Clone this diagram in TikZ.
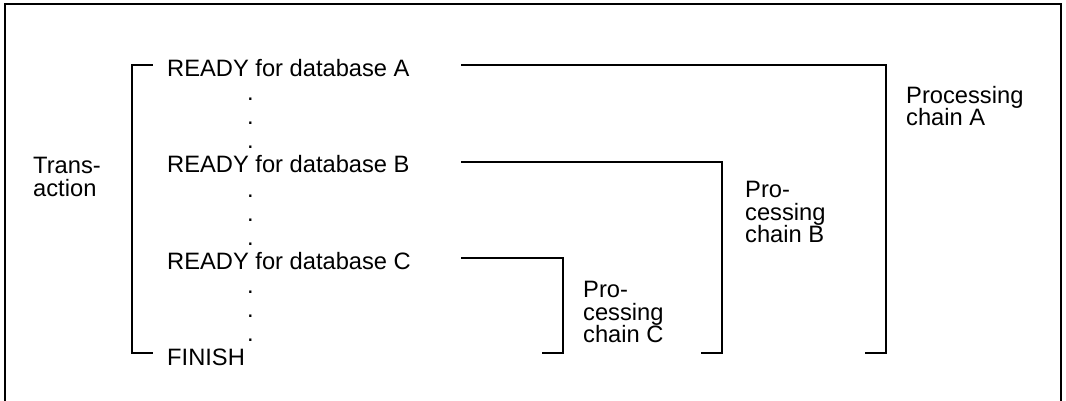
\documentclass[tikz,border=0pt]{standalone}
\usepackage{fontspec}
\setmainfont{Liberation Sans}
\begin{document}
\begin{tikzpicture}[x=1pt,y=-1pt,
  rule/.style={line width=1.5pt, line cap=rect},
  txt/.style={anchor=base west, inner sep=0pt, font=\fontsize{23.7}{22.5}\selectfont},
  lbl/.style={anchor=north west, inner sep=0pt, align=left, font=\fontsize{23.7}{22.5}\selectfont}]
\useasboundingbox (0,0) rectangle (1066,401);
% frame
\draw[rule, line cap=butt] (5,401) -- (5,4) -- (1061,4) -- (1061,401);
% transaction list
\node[txt] (ra) at (167,77) {READY for database A};
\node[txt] (rb) at (167,173) {READY for database B};
\node[txt] (rc) at (167,269) {READY for database C};
\node[txt] (fin) at (167,365) {FINISH};
\foreach \y [count=\i] in {101,125,149,197,221,245,293,317,341}
  \node[txt] (dot\i) at (247,\y) {.};
% left bracket
\coordinate (lt) at (152,65);
\coordinate (lb) at (152,353);
\draw[rule] (lt) -- ++(-20,0) |- (lb);
\node[lbl] (trans) at (33,157) {Trans-\\action};
% chain A
\coordinate (as) at (462,65);
\coordinate (ae) at (866,353);
\draw[rule] (as) -- (886,65) |- (ae);
\node[lbl] (pa) at (906,86) {Processing\\chain A};
% chain B
\coordinate (bs) at (462,162);
\coordinate (be) at (702,353);
\draw[rule] (bs) -- (722,162) |- (be);
\node[lbl] (pb) at (745,181) {Pro-\\cessing\\chain B};
% chain C
\coordinate (cs) at (462,258);
\coordinate (ce) at (543,353);
\draw[rule] (cs) -- (563,258) |- (ce);
\node[lbl] (pc) at (583,281) {Pro-\\cessing\\chain C};
\end{tikzpicture}
\end{document}
